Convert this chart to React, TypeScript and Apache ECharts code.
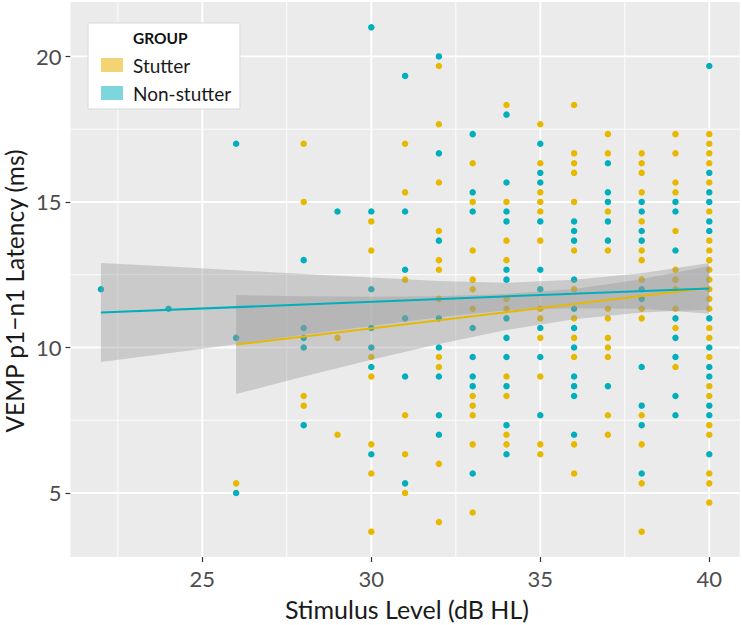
import React, { useEffect, useRef } from "react";
import * as echarts from "echarts";

// Stimulus levels (dB HL) at which latencies were recorded
const xLevels = [22, 24, 26, 28, 29, 30, 31, 32, 33, 34, 35, 36, 37, 38, 39, 40];

// VEMP p1-n1 latency (ms) per level, Stutter group
const stutterByLevel: number[][] = [
  [],
  [],
  [5.33],
  [17.0, 15.0, 8.33, 8.0],
  [10.33, 7.0],
  [14.33, 13.33, 9.67, 9.0, 6.67, 5.67, 3.67],
  [17.0, 15.33, 12.33, 7.67, 6.33, 5.0],
  [19.67, 17.67, 15.67, 14.0, 13.0, 12.67, 11.67, 9.67, 9.33, 6.0, 4.0],
  [16.33, 15.0, 13.33, 12.33, 12.0, 11.33, 8.33, 8.0, 7.67, 6.67, 4.33],
  [18.33, 15.0, 13.67, 13.0, 11.67, 11.33, 9.0, 8.33, 7.0, 6.67],
  [17.67, 16.33, 15.33, 15.0, 14.67, 13.67, 11.33, 11.0, 10.33, 9.0, 6.67, 6.33],
  [18.33, 16.67, 16.33, 16.0, 15.0, 13.33, 12.0, 11.0, 10.33, 9.67, 6.67, 5.67],
  [17.33, 16.67, 14.67, 13.33, 11.33, 11.0, 10.33, 10.0, 9.67, 7.67, 7.0],
  [16.67, 16.33, 16.0, 15.33, 14.33, 13.33, 13.0, 12.33, 11.33, 11.0, 7.67, 6.67, 5.33, 3.67],
  [17.33, 16.67, 15.67, 15.33, 14.0, 12.67, 12.33, 12.0, 11.33, 10.67, 9.33],
  [17.33, 17.0, 16.67, 16.33, 15.67, 14.67, 13.67, 13.33, 13.0, 12.67, 12.33, 12.0, 11.67, 11.33,
    10.67, 10.33, 9.67, 8.67, 8.33, 7.33, 7.0, 5.67, 5.33, 4.67],
];

// VEMP p1-n1 latency (ms) per level, Non-stutter group
const nonStutterByLevel: number[][] = [
  [12.0],
  [11.33],
  [17.0, 10.33, 5.0],
  [13.0, 10.67, 10.33, 10.0, 7.33],
  [14.67],
  [21.0, 14.67, 12.0, 10.67, 10.0, 9.33, 6.33],
  [19.33, 14.67, 12.67, 11.0, 9.0, 5.33],
  [20.0, 16.67, 13.67, 11.0, 10.0, 9.0, 7.67, 7.0],
  [17.33, 15.33, 14.67, 10.67, 9.67, 9.0, 8.67, 5.67],
  [18.0, 15.67, 14.67, 14.33, 12.67, 12.33, 11.0, 10.33, 9.67, 8.67, 7.33, 6.33],
  [17.0, 16.0, 15.67, 14.33, 12.67, 12.0, 10.67, 9.67, 7.67],
  [14.33, 14.0, 13.67, 12.33, 11.33, 10.67, 10.0, 9.0, 8.67, 8.33, 7.0],
  [16.33, 15.33, 15.0, 14.33, 13.67, 8.67],
  [15.0, 14.67, 14.0, 13.67, 12.0, 11.67, 9.33, 8.0, 7.33, 5.67],
  [15.0, 14.67, 13.33, 11.0, 10.33, 9.67, 8.33, 7.67],
  [19.67, 16.0, 15.33, 15.0, 14.33, 14.0, 11.0, 10.0, 9.33, 9.0, 8.0, 7.67, 6.33],
];

// Linear fits
const stutterFitX = [26, 40];
const stutterFitY = [10.1, 12.05];
const nonStutterFitX = [22, 40];
const nonStutterFitY = [11.2, 12.03];

// Confidence bands
const stutterBandX = [26, 28, 30, 32, 34, 36, 38, 40];
const stutterBandLow = [8.4, 9.0, 9.58, 10.12, 10.6, 10.97, 11.2, 11.3];
const stutterBandHigh = [11.8, 11.76, 11.74, 11.76, 11.84, 12.01, 12.34, 12.8];
const nonStutterBandX = [22, 24, 26, 28, 30, 32, 34, 36, 38, 40];
const nonStutterBandLow = [9.5, 9.8, 10.11, 10.44, 10.74, 11.04, 11.28, 11.35, 11.33, 11.16];
const nonStutterBandHigh = [12.9, 12.78, 12.65, 12.52, 12.4, 12.28, 12.22, 12.33, 12.55, 12.9];

// Axes
const xTicks = [25, 30, 35, 40];
const yTicks = [5, 10, 15, 20];
const xMinorGrid = [22.5, 27.5, 32.5, 37.5];
const yMinorGrid = [7.5, 12.5, 17.5];
const xRange = [21.1, 40.9];
const yRange = [2.8, 21.87];

const groupNames = ["Stutter", "Non-stutter"];
const groupColors = ["#E7B800", "#00AFBB"];
const legendKeyColors = ["#F2D474", "#7DD6DC"];

const FONT = "Lato, 'Open Sans', sans-serif";

function toPoints(byLevel: number[][]) {
  const out: number[][] = [];
  xLevels.forEach((x, i) => byLevel[i].forEach((y) => out.push([x, y])));
  return out;
}

function bandSeries(name: string, xs: number[], lo: number[], hi: number[]) {
  return {
    type: "custom",
    name,
    z: 3,
    silent: true,
    clip: true,
    data: [[xs[0], lo[0]]],
    renderItem: (params: any, api: any) => {
      const pts: number[][] = [];
      xs.forEach((x, i) => pts.push(api.coord([x, hi[i]])));
      for (let i = xs.length - 1; i >= 0; i--) pts.push(api.coord([xs[i], lo[i]]));
      return {
        type: "polygon",
        shape: { points: pts },
        style: { fill: "rgba(153,153,153,0.4)", stroke: "none" },
      };
    },
  };
}

export default function App() {
  const ref = useRef<HTMLDivElement>(null);

  useEffect(() => {
    if (!ref.current) return;
    const chart = echarts.init(ref.current, undefined, { renderer: "svg" });

    const gridSeries = {
      type: "custom",
      name: "gridlines",
      z: 1,
      silent: true,
      data: [[xRange[0], yRange[0]]],
      renderItem: (params: any, api: any) => {
        const cs = params.coordSys;
        const children: any[] = [];
        const hLine = (v: number, w: number) => {
          const p = api.coord([xRange[0], v]);
          children.push({
            type: "line",
            shape: { x1: cs.x, y1: p[1], x2: cs.x + cs.width, y2: p[1] },
            style: { stroke: "#FFFFFF", lineWidth: w },
          });
        };
        const vLine = (v: number, w: number) => {
          const p = api.coord([v, yRange[0]]);
          children.push({
            type: "line",
            shape: { x1: p[0], y1: cs.y, x2: p[0], y2: cs.y + cs.height },
            style: { stroke: "#FFFFFF", lineWidth: w },
          });
        };
        yMinorGrid.forEach((v) => hLine(v, 0.9));
        xMinorGrid.forEach((v) => vLine(v, 0.9));
        yTicks.forEach((v) => hLine(v, 1.9));
        xTicks.forEach((v) => vLine(v, 1.9));
        return { type: "group", children };
      },
    };

    const fitLine = (name: string, xs: number[], ys: number[], color: string) => ({
      type: "line",
      name: name + " fit",
      z: 4,
      silent: true,
      symbol: "none",
      data: xs.map((x, i) => [x, ys[i]]),
      lineStyle: { color, width: 2 },
    });

    const legendGraphics: any[] = [
      {
        type: "rect",
        z: 100,
        shape: { x: 88, y: 23, width: 152, height: 86 },
        style: { fill: "#FFFFFF", stroke: "#D9D9D9", lineWidth: 1 },
      },
      {
        type: "text",
        z: 101,
        x: 133,
        y: 38,
        style: {
          text: "GROUP",
          fontFamily: FONT,
          fontWeight: "bold",
          fontSize: 15.5,
          fill: "#111111",
          textAlign: "left",
          textVerticalAlign: "middle",
        },
      },
    ];
    groupNames.forEach((g, i) => {
      const top = 58 + i * 28;
      legendGraphics.push({
        type: "rect",
        z: 101,
        shape: { x: 101, y: top, width: 22, height: 14 },
        style: { fill: legendKeyColors[i] },
      });
      legendGraphics.push({
        type: "text",
        z: 101,
        x: 133,
        y: top + 7,
        style: {
          text: g,
          fontFamily: FONT,
          fontSize: 19,
          fill: "#1A1A1A",
          textAlign: "left",
          textVerticalAlign: "middle",
        },
      });
    });

    const option: any = {
      animation: false,
      backgroundColor: "#FFFFFF",
      grid: {
        left: 70.5,
        right: 2.3,
        top: 2,
        bottom: 68,
        show: true,
        backgroundColor: "#EBEBEB",
        borderWidth: 0,
      },
      xAxis: {
        type: "value",
        min: xRange[0],
        max: xRange[1],
        axisLine: { show: false },
        splitLine: { show: false },
        axisTick: {
          show: true,
          customValues: xTicks,
          length: 5,
          lineStyle: { color: "#333333", width: 1.2 },
        },
        axisLabel: {
          customValues: xTicks,
          fontFamily: FONT,
          fontSize: 22,
          color: "#4D4D4D",
          margin: 10,
        },
      },
      yAxis: {
        type: "value",
        min: yRange[0],
        max: yRange[1],
        axisLine: { show: false },
        splitLine: { show: false },
        axisTick: {
          show: true,
          customValues: yTicks,
          length: 5,
          lineStyle: { color: "#333333", width: 1.2 },
        },
        axisLabel: {
          customValues: yTicks,
          fontFamily: FONT,
          fontSize: 22,
          color: "#4D4D4D",
          margin: 9,
        },
      },
      graphic: [
        {
          type: "text",
          x: 407,
          y: 609,
          style: {
            text: "Stimulus Level (dB HL)",
            fontFamily: FONT,
            fontSize: 25,
            fill: "#1A1A1A",
            textAlign: "center",
            textVerticalAlign: "middle",
          },
        },
        {
          type: "text",
          x: 14,
          y: 291,
          rotation: Math.PI / 2,
          style: {
            text: "VEMP p1\u2212n1 Latency (ms)",
            fontFamily: FONT,
            fontSize: 24.5,
            fill: "#1A1A1A",
            textAlign: "center",
            textVerticalAlign: "middle",
          },
        },
        ...legendGraphics,
      ],
      series: [
        gridSeries,
        {
          type: "scatter",
          name: groupNames[0],
          z: 2,
          symbolSize: 6.5,
          itemStyle: { color: groupColors[0], opacity: 1 },
          data: toPoints(stutterByLevel),
        },
        {
          type: "scatter",
          name: groupNames[1],
          z: 2,
          symbolSize: 6.5,
          itemStyle: { color: groupColors[1], opacity: 1 },
          data: toPoints(nonStutterByLevel),
        },
        bandSeries("Stutter band", stutterBandX, stutterBandLow, stutterBandHigh),
        bandSeries("Non-stutter band", nonStutterBandX, nonStutterBandLow, nonStutterBandHigh),
        fitLine(groupNames[0], stutterFitX, stutterFitY, groupColors[0]),
        fitLine(groupNames[1], nonStutterFitX, nonStutterFitY, groupColors[1]),
      ],
    };

    chart.setOption(option);
    return () => chart.dispose();
  }, []);

  return (
    <div
      ref={ref}
      style={{ position: "absolute", left: 0, top: 0, width: 742, height: 625 }}
    />
  );
}
